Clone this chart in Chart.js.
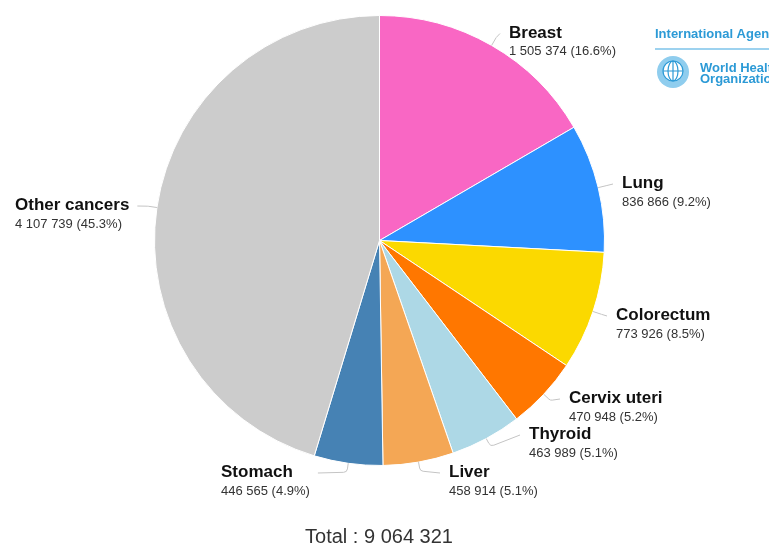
<!DOCTYPE html>
<html>
<head>
<meta charset="utf-8">
<script src="https://cdn.jsdelivr.net/npm/chart.js@4.4.1/dist/chart.umd.min.js"></script>
<style>
  html, body { margin: 0; padding: 0; background: #fff; }
  #wrap { position: relative; width: 769px; height: 557px; }
</style>
</head>
<body>
<div id="wrap"><canvas id="pie"></canvas></div>
<script>
// data
const cancers = ['Breast', 'Lung', 'Colorectum', 'Cervix uteri', 'Thyroid', 'Liver', 'Stomach', 'Other cancers'];
const cases = [1505374, 836866, 773926, 470948, 463989, 458914, 446565, 4107739];
const sliceColors = ['#F967C4', '#2D91FF', '#FBD900', '#FF7700', '#ADD8E6', '#F4A755', '#4682B4', '#CCCCCC'];

// label placement: [x, name baseline, side]  (side 'r' = text to the right of connector)
const labelLayout = [
    [509, 37.5, 'r'],
    [622, 188, 'r'],
    [616, 320, 'r'],
    [569, 403, 'r'],
    [529, 439, 'r'],
    [449, 477, 'r'],
    [221, 477, 'l'],
    [15, 210, 'l']
];

const total = cases.reduce((a, b) => a + b, 0);
const fmt = n => String(n).replace(/\B(?=(\d{3})+(?!\d))/g, ' ');
const FONT = "'Liberation Sans', Arial, sans-serif";

const labelsPlugin = {
    id: 'pieLabels',
    afterDraw(chart) {
        const ctx = chart.ctx;
        const arcs = chart.getDatasetMeta(0).data;
        ctx.save();
        arcs.forEach((arc, i) => {
            const [lx, base, side] = labelLayout[i];
            const name = cancers[i];
            const val = fmt(cases[i]) + ' (' + (cases[i] / total * 100).toFixed(1) + '%)';

            ctx.font = 'bold 17px ' + FONT;
            const wName = ctx.measureText(name).width;
            ctx.font = '13px ' + FONT;
            const wVal = ctx.measureText(val).width;
            const blockW = Math.max(wName, wVal);

            // connector
            const a = (arc.startAngle + arc.endAngle) / 2;
            const R = arc.outerRadius;
            const p0 = { x: arc.x + R * Math.cos(a), y: arc.y + R * Math.sin(a) };
            const c = { x: arc.x + (R + 9) * Math.cos(a), y: arc.y + (R + 9) * Math.sin(a) };
            const ex = side === 'r' ? lx - 9 : lx + blockW + 8;
            const ey = base - 4;
            ctx.beginPath();
            ctx.strokeStyle = '#c4c4c4';
            ctx.lineWidth = 1;
            ctx.moveTo(p0.x, p0.y);
            ctx.arcTo(c.x, c.y, ex, ey, 4);
            ctx.lineTo(ex, ey);
            ctx.stroke();

            // texts
            ctx.textAlign = 'left';
            ctx.textBaseline = 'alphabetic';
            ctx.fillStyle = '#111';
            ctx.font = 'bold 17px ' + FONT;
            ctx.fillText(name, lx, base);
            ctx.fillStyle = '#333';
            ctx.font = '13px ' + FONT;
            ctx.fillText(val, lx, base + 17.5);
        });

        // total
        ctx.fillStyle = '#333';
        ctx.font = '20px ' + FONT;
        ctx.textAlign = 'center';
        ctx.fillText('Total : ' + fmt(total), 379, 543);

        // logo (IARC / WHO), clipped by the canvas edge
        const blue = '#2C9AD6';
        ctx.textAlign = 'left';
        ctx.fillStyle = blue;
        ctx.font = "bold 13px 'Liberation Sans Narrow', 'Liberation Sans', sans-serif";
        ctx.fillText('International Agency for Research on Cancer', 655, 38);
        ctx.strokeStyle = '#7cc3ea';
        ctx.lineWidth = 1.5;
        ctx.beginPath();
        ctx.moveTo(655, 49);
        ctx.lineTo(769, 49);
        ctx.stroke();
        ctx.font = "bold 13px 'Liberation Sans Narrow', 'Liberation Sans', sans-serif";
        ctx.fillText('World Health', 700, 72);
        ctx.fillText('Organization', 700, 83);
        // emblem
        ctx.strokeStyle = blue;
        ctx.fillStyle = '#8fcdee';
        ctx.beginPath();
        ctx.arc(673, 72, 16, 0, Math.PI * 2);
        ctx.fill();
        ctx.fillStyle = '#fff';
        ctx.beginPath();
        ctx.arc(673, 71, 10, 0, Math.PI * 2);
        ctx.fill();
        ctx.lineWidth = 1.2;
        ctx.beginPath();
        ctx.arc(673, 71, 10, 0, Math.PI * 2);
        ctx.moveTo(663, 71); ctx.lineTo(683, 71);
        ctx.moveTo(673, 61); ctx.lineTo(673, 81);
        ctx.stroke();
        ctx.beginPath();
        ctx.ellipse(673, 71, 5, 10, 0, 0, Math.PI * 2);
        ctx.stroke();
        ctx.restore();
    }
};

new Chart(document.getElementById('pie'), {
    type: 'pie',
    data: {
        labels: cancers,
        datasets: [{
            data: cases,
            backgroundColor: sliceColors,
            borderColor: '#ffffff',
            borderWidth: 1,
            hoverOffset: 0
        }]
    },
    options: {
        responsive: true,
        maintainAspectRatio: false,
        animation: false,
        layout: {
            padding: { left: 154, right: 164, top: 15, bottom: 91 }
        },
        plugins: {
            legend: { display: false },
            tooltip: { enabled: false }
        }
    },
    plugins: [labelsPlugin]
});
</script>
</body>
</html>
